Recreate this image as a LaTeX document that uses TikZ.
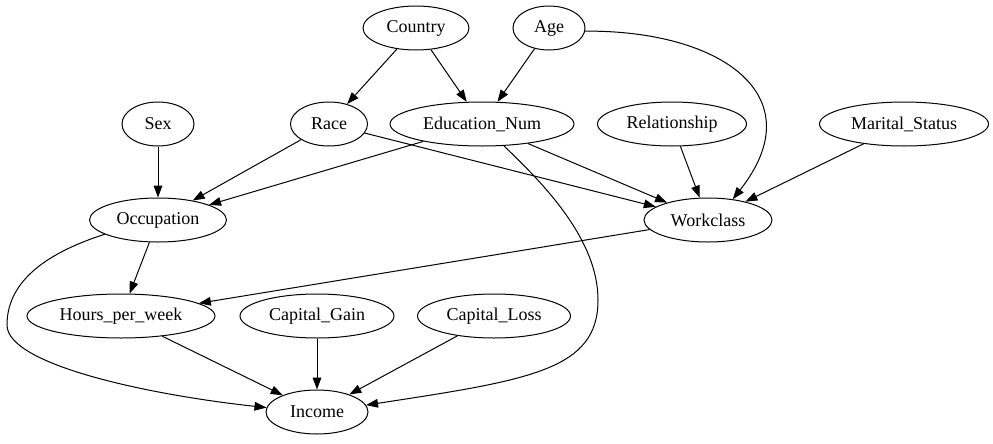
\documentclass[tikz,border=0pt]{standalone}
\usepackage{fontspec}
\setmainfont{Liberation Serif}
\usetikzlibrary{arrows.meta,shapes.geometric}

\begin{document}
\begin{tikzpicture}[x=0.75pt,y=-0.75pt,line width=0.75pt,
    >={Triangle[length=9pt,width=6.5pt]},
    var/.style={draw,ellipse,inner sep=0pt,minimum height=33pt,
      font=\fontsize{13.5}{16}\selectfont}]
  \useasboundingbox (0,0) rectangle (993,443);

  \node[var,minimum width=79.5pt] (Country) at (416,28) {Country};
  \node[var,minimum width=54pt] (Age) at (549,28) {Age};

  \node[var,minimum width=54pt] (Sex) at (158,124) {Sex};
  \node[var,minimum width=57.75pt] (Race) at (329,124) {Race};
  \node[var,minimum width=138pt] (Education_Num) at (482,124) {Education\_Num};
  \node[var,minimum width=111.75pt] (Relationship) at (672,124) {Relationship};
  \node[var,minimum width=126.75pt] (Marital_Status) at (904,124) {Marital\_Status};

  \node[var,minimum width=102.75pt] (Occupation) at (158,220) {Occupation};
  \node[var,minimum width=96pt] (Workclass) at (708,220) {Workclass};

  \node[var,minimum width=141pt] (Hours_per_week) at (121,316) {Hours\_per\_week};
  \node[var,minimum width=115.5pt] (Capital_Gain) at (317,316) {Capital\_Gain};
  \node[var,minimum width=114.75pt] (Capital_Loss) at (494,316) {Capital\_Loss};

  \node[var,minimum width=76.5pt] (Income) at (317,412) {Income};

  \draw[->] (Country) -- (Race);
  \draw[->] (Country) -- (Education_Num);
  \draw[->] (Age) -- (Education_Num);
  \draw[->] (Age.-5) .. controls (720,30) and (815,95) .. (Workclass.40);
  \draw[->] (Sex) -- (Occupation);
  \draw[->] (Race) -- (Occupation);
  \draw[->] (Race) -- (Workclass);
  \draw[->] (Education_Num) -- (Occupation);
  \draw[->] (Education_Num) -- (Workclass);
  \draw[->] (Education_Num.-45) .. controls (545,185) and (598,240) .. (598,300)
    .. controls (598,370) and (530,380) .. (Income.8);
  \draw[->] (Relationship) -- (Workclass);
  \draw[->] (Marital_Status) -- (Workclass);
  \draw[->] (Occupation) -- (Hours_per_week);
  \draw[->] (Occupation.195) .. controls (40,255) and (7,285) .. (7,325)
    .. controls (7,365) and (150,395) .. (Income.175);
  \draw[->] (Workclass) -- (Hours_per_week);
  \draw[->] (Hours_per_week) -- (Income);
  \draw[->] (Capital_Gain) -- (Income);
  \draw[->] (Capital_Loss) -- (Income);
\end{tikzpicture}
\end{document}
